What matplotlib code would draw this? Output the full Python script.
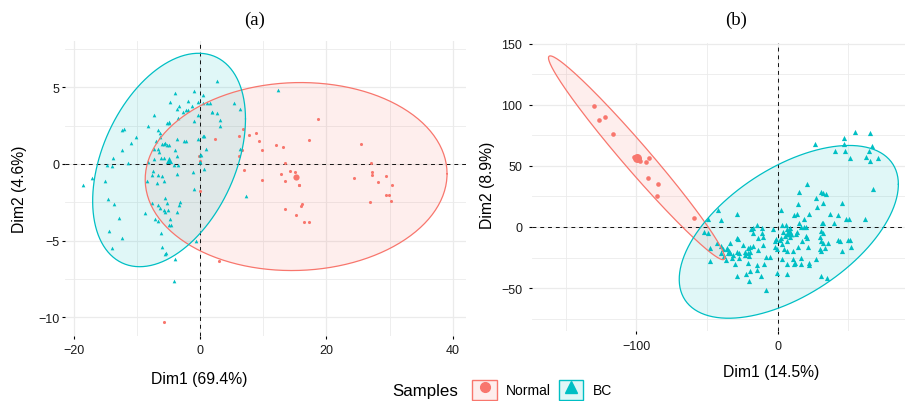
import numpy as np
import matplotlib
matplotlib.use("Agg")
import matplotlib.pyplot as plt
from matplotlib.lines import Line2D
from matplotlib.patches import Patch
from matplotlib.legend_handler import HandlerTuple
from matplotlib.colors import to_rgba

plt.rcParams["font.family"] = ["Liberation Sans", "DejaVu Sans"]

RED = "#F8766D"
CYAN = "#00BFC4"

# ---- panel (a) data: PCA scores, Dim1 / Dim2 ----
a_normal_x = [-0.2, -0.1, 2.4, 6.1, 6.8, 7.8, 8.8, 9.3, 9.8, 6.6, 6.1, 7.0, 9.8, 12.0,
              13.1, 13.5, 12.8, 14.3, 15.1, 13.4, 15.6, 15.7, 17.3, 18.6, 16.2, 16.0,
              13.4, 15.2, 16.4, 17.2, 25.4, 27.1, 27.2, 27.2, 24.4, 29.4, 28.2, 30.4,
              29.4, 29.9, 30.3, 26.9, 3.0, 0.0, -5.8]
a_normal_y = [0.5, 0.2, 1.65, 1.85, 2.3, 1.9, 2.0, 1.5, 0.9, 0.93, 0.55, -0.37, -1.05, 1.26,
              1.1, 0.07, -0.65, -0.48, -0.54, -1.1, -1.35, -1.4, 1.55, 2.94, -2.6, -2.75,
              -2.96, -3.33, -3.77, -3.77, 1.3, 0.07, -0.52, -0.74, -0.94, -0.8, -1.18, -1.4,
              -2.0, -2.05, -2.4, -2.46, -6.3, -1.74, -10.3]

a_bc_x = [2.7, -1.0, -4.0, -1.9, -4.7, -0.4, -3.4, -3.6, -2.3, -2.0, -2.7, -1.3, 0.5, 1.15,
          1.6, 5.3, 1.9, 2.6, -0.3, 3.2, 3.2, 6.3, -7.3, -3.5, -4.9, -5.3, -5.0, -8.2,
          -1.0, -12.4, -12.0, -10.2, -11.0, -6.6, -6.3, -6.4, -7.0, -3.6, -2.5, -2.2,
          -4.9, -5.3, -5.7, -5.5, -6.1, -7.3, -6.5, -6.6, -12.4, -13.8, 0.6, -0.3, -4.0,
          -5.7, -6.2, -3.6, -8.2, -7.3, 0.05, 6.3, -14.7, -13.9, -11.5, -17.2, -18.5,
          -15.1, -7.5, -7.7, -6.6, -6.1, -8.4, -6.9, -5.8, -3.7, -4.2, -3.5, -1.2, -1.0,
          -14.6, -13.7, -12.9, -14.4, -12.4, -13.9, -8.8, -7.7, -6.6, -5.5, -5.3, -5.7,
          -5.5, -5.1, -6.4, -3.2, -3.4, -3.6, -7.1, -6.6, -4.7, -5.0, -4.6, -6.2, -6.1,
          -5.4, -5.5, -4.0, -4.1, -0.7, 0.05, 0.2, 7.2, 12.4, 0.5, 1.8, 0.5, 0.9, 0.0, 0.6]
a_bc_y = [5.4, 4.75, 4.6, 4.1, 4.05, 4.05, 3.8, 3.6, 3.5, 3.5, 3.4, 3.8, 4.0, 4.0,
          4.0, 4.0, 3.4, 3.3, 3.2, 2.9, 2.5, 3.6, 3.2, 3.0, 2.7, 2.7, 2.75, 2.5,
          2.8, 2.2, 2.25, 1.76, 1.4, 2.2, 2.0, 1.75, 1.5, 1.6, 1.5, 1.5,
          1.24, 1.24, 1.3, 1.35, 1.3, 1.0, 0.8, 1.0, 0.9, 0.4, 1.8, 1.6, 0.9,
          0.4, 0.4, 0.5, 0.15, 0.3, 0.6, 1.0, -0.07, -0.1, 0.05, -0.9, -1.4,
          -1.1, -0.44, -0.72, -0.72, -0.77, -1.1, -1.24, -1.1, -0.63, -0.05, -0.05, -0.5, -1.6,
          -2.3, -2.6, -3.5, -4.4, -4.8, -5.5, -3.2, -2.55, -2.7, -2.2, -2.55, -3.0,
          -3.1, -3.0, -2.9, -2.46, -2.7, -3.1, -3.6, -3.7, -3.6, -4.0, -4.0, -4.5, -5.4,
          -5.8, -5.9, -6.2, -7.6, -5.0, 0.1, 0.6, -2.1, 4.8, 4.5, 3.4, 1.8, 1.0, 0.15, -0.3]

# group ellipses: centre x, centre y, sd-extent x, sd-extent y, correlation
a_normal_ell = [15.2, -0.82, 23.9, 6.13, 0.03]
a_bc_ell = [-4.92, 0.26, 12.1, 6.96, 0.385]

# ---- panel (b) data ----
b_normal_x = [-130.4, -126.6, -122.1, -116.7, -101.5, -98.5, -97.5, -93.3, -90.9,
              -91.6, -84.5, -85.5, -59.0]
b_normal_y = [98.7, 87.7, 89.9, 75.7, 57.0, 56.0, 53.9, 53.3, 56.3, 39.7, 35.0, 25.4, 7.1]

b_bc_x = [54.7, 65.6, 47.4, 26.6, 46.9, 67.2, 40.8, 47.9, 65.1, 62.8, 51.4, 71.5, 65.6,
          21.1, 67.9, 15.5, 31.1, 32.5, 34.6, 27.5, 46.0, 32.5, 14.8, 28.0, -42.0, -28.9,
          -49.5, -39.9, 2.2, 11.5, 14.1, 22.6, 19.0, 37.2, 43.1, 48.6, 50.9, 61.8, 31.6,
          32.3, 40.3, 15.0, -14.8, -52.3, -49.5, -18.8, -17.4, -11.0, -3.4, 3.0, 5.8, 3.7,
          8.9, 7.4, 14.1, 20.0, 16.7, 18.6, 20.0, 31.1, 32.1, 29.9, 31.1, 32.1, 35.8, 42.7,
          44.6, 49.8, 51.2, 51.9, 45.5, 33.9, 29.9, 27.5, 22.1, 22.1, 16.7, 11.0, 12.2,
          11.5, 6.7, 3.0, 6.7, 11.2, 14.3, 21.6, 3.2, 4.4, -2.0, -0.1, -1.6, -1.1, 2.7,
          5.1, 8.9, 13.1, -5.3, -8.4, -10.3, -13.6, -17.4, -19.7, -21.1, -13.6, -10.1,
          -24.3, -28.0, -33.7, -36.0, -33.5, -31.3, -32.1, -29.9, -27.5, -23.3, -22.8,
          -20.7, -20.0, -19.3, -27.3, -20.7, -14.8, -14.3, -9.6, -19.3, -22.3, -28.5,
          -20.0, -11.5, -7.9, -0.6, 6.7, 30.9, 34.9, -47.7, -47.9, -40.1, -42.7, -38.4,
          -34.9, 2.0, 6.5, 17.4, 20.9, 31.1, 16.5, 6.9, 8.7, -17.2, -10.8, -36.7, -37.9,
          -28.9, -36.0, -34.2, -28.9, -40.3]
b_bc_y = [77.4, 76.8, 72.4, 68.0, 67.5, 65.9, 62.0, 62.0, 61.8, 57.4, 56.3, 56.1, 53.9,
          35.3, 30.7, 28.2, 29.0, 27.9, 26.6, 23.5, 19.2, 20.0, 18.6, 16.4, 13.7, 11.0,
          6.3, 5.7, 13.9, 9.6, 10.7, 11.0, 6.9, 11.0, 9.8, 6.9, 6.9, 6.3, 3.6,
          3.0, 3.6, 3.0, 1.6, -3.8, -5.2, -1.9, -4.6, -4.6, -1.9, 1.6, 1.4, -3.8,
          -4.1, -5.2, -4.1, -7.1, 0.0, 0.3, 0.3, -3.5, -4.6, -7.9, -11.7, -12.8, -12.8, -10.6,
          -11.2, -10.6, -10.6, -16.1, -19.3, -16.9, -18.0, -25.9, -29.2, -30.8, -30.3, -25.9, -29.2,
          -30.3, -30.3, -25.9, -19.7, -19.7, -16.6, -16.6, -13.9, -18.3, -16.6, -17.7, -11.7, -9.5, -8.7,
          -7.4, -7.9, -5.7, -24.6, -24.6, -14.8, -18.5, -15.8, -16.4, -17.2, -9.0, -8.4,
          -14.4, -10.1, -13.4, -16.9, -21.0, -23.2, -25.1, -30.6, -21.0, -20.2, -23.0,
          -21.0, -23.4, -20.2, -25.7, -29.5, -31.1, -35.2, -30.3, -36.1, -38.8, -40.2,
          -43.9, -40.2, -51.3, -37.4, -38.2, -40.4, -41.8, -27.5, -16.9, -15.6, -13.1, -18.3,
          -21.0, -10.6, -11.5, -11.7, -9.0, -19.7, -25.1, -1.9, -0.5, -0.5, -0.8, -26.7, -24.0,
          -9.3, -17.7, -19.9, -20.5, -21.0]

b_normal_ell = [-99.9, 56.6, 62.5, 83.4, -0.98]
b_bc_ell = [8.0, -4.0, 77.7, 70.7, 0.55]

labels = ["Normal", "BC"]


def ellipse_xy(cx, cy, sx, sy, r, n=240):
    t = np.linspace(0, 2 * np.pi, n)
    x = cx + sx * np.cos(t)
    y = cy + sy * (r * np.cos(t) + np.sqrt(1 - r ** 2) * np.sin(t))
    return x, y


def draw_panel(ax, nx, ny, bx, by, ell_n, ell_b, sizes):
    s_n, s_b, s_mn, s_mb = sizes
    for ell, c in ((ell_n, RED), (ell_b, CYAN)):
        ex, ey = ellipse_xy(*ell)
        ax.fill(ex, ey, color=c, alpha=0.12, lw=0, zorder=1)
    ax.axhline(0, color="#111111", ls=(0, (4, 4)), lw=0.7, zorder=2)
    ax.axvline(0, color="#111111", ls=(0, (4, 4)), lw=0.7, zorder=2)
    ax.scatter(nx, ny, s=s_n, marker="o", color=RED, lw=0, zorder=3)
    ax.scatter(bx, by, s=s_b, marker="^", color=CYAN, lw=0, zorder=3)
    ax.scatter([ell_n[0]], [ell_n[1]], s=s_mn, marker="o", color=RED, lw=0, zorder=3)
    ax.scatter([ell_b[0]], [ell_b[1]], s=s_mb, marker="^", color=CYAN, lw=0, zorder=3)
    for ell, c in ((ell_n, RED), (ell_b, CYAN)):
        ex, ey = ellipse_xy(*ell)
        ax.plot(ex, ey, color=c, lw=0.9, zorder=4)
    for side in ax.spines.values():
        side.set_visible(False)
    ax.set_axisbelow(True)
    ax.grid(which="major", color="#EBEBEB", lw=0.9)
    ax.grid(which="minor", color="#EBEBEB", lw=0.6)
    ax.tick_params(which="minor", length=0)


fig = plt.figure(figsize=(9.07, 4.02), dpi=100)

# panel (a)
ax_a = fig.add_axes([65 / 907, 1 - 336.7 / 402, 401 / 907, 295 / 402])
draw_panel(ax_a, a_normal_x, a_normal_y, a_bc_x, a_bc_y, a_normal_ell, a_bc_ell,
           (5, 7, 20, 26))
ax_a.set_xlim(-21.4, 42.1)
ax_a.set_ylim(-11.2, 8.04)
ax_a.set_xticks([-20, 0, 20, 40])
ax_a.set_xticks([-10, 10, 30], minor=True)
ax_a.set_yticks([-10, -5, 0, 5])
ax_a.set_yticks([-7.5, -2.5, 2.5, 7.5], minor=True)
ax_a.tick_params(which="major", length=2.2, width=0.8, labelsize=9,
                 labelcolor="#1a1a1a", pad=1.8)
ax_a.tick_params(axis="x", which="major", pad=3.5)

# panel (b)
ax_b = fig.add_axes([532 / 907, 1 - 331.7 / 402, 373 / 907, 287.4 / 402])
draw_panel(ax_b, b_normal_x, b_normal_y, b_bc_x, b_bc_y, b_normal_ell, b_bc_ell,
           (11, 14, 42, 50))
ax_b.set_xlim(-174.1, 90.4)
ax_b.set_ylim(-84.9, 150.3)
ax_b.set_xticks([-100, 0])
ax_b.set_xticks([-150, -50, 50], minor=True)
ax_b.set_yticks([-50, 0, 50, 100, 150])
ax_b.set_yticks([-75, -25, 25, 75, 125], minor=True)
ax_b.tick_params(which="major", length=2.2, width=0.8, labelsize=9,
                 labelcolor="#1a1a1a", pad=4.8)

# titles and axis labels
fig.text(255 / 907, 1 - 20 / 402, "(a)", family="Liberation Serif", fontsize=13.5,
         ha="center", va="center")
fig.text(736 / 907, 1 - 20 / 402, "(b)", family="Liberation Serif", fontsize=13.5,
         ha="center", va="center")
fig.text(199 / 907, 1 - 380 / 402, "Dim1 (69.4%)", fontsize=11.3, ha="center", va="center")
fig.text(20 / 907, 1 - 189 / 402, "Dim2 (4.6%)", fontsize=11.3, rotation=90,
         ha="center", va="center")
fig.text(771 / 907, 1 - 373 / 402, "Dim1 (14.5%)", fontsize=11.3, ha="center", va="center")
fig.text(488 / 907, 1 - 185 / 402, "Dim2 (8.9%)", fontsize=11.3, rotation=90,
         ha="center", va="center")

# legend
fig.text(425 / 907, 1 - 392 / 402, "Samples", fontsize=12.2, ha="center", va="center")
handles = [
    (Patch(facecolor=to_rgba(RED, 0.12), edgecolor=RED, lw=1.0),
     Line2D([], [], ls="", marker="o", ms=7, color=RED)),
    (Patch(facecolor=to_rgba(CYAN, 0.12), edgecolor=CYAN, lw=1.0),
     Line2D([], [], ls="", marker="^", ms=9, color=CYAN)),
]
fig.legend(handles, labels, handler_map={tuple: HandlerTuple(ndivide=1)},
           loc="center", bbox_to_anchor=(542 / 907, 1 - 391 / 402), ncol=2,
           frameon=False, fontsize=10, handlelength=1.75, handleheight=1.75,
           handletextpad=0.65, columnspacing=0.6, borderpad=0, borderaxespad=0)

fig.savefig("out.png", dpi=100)
